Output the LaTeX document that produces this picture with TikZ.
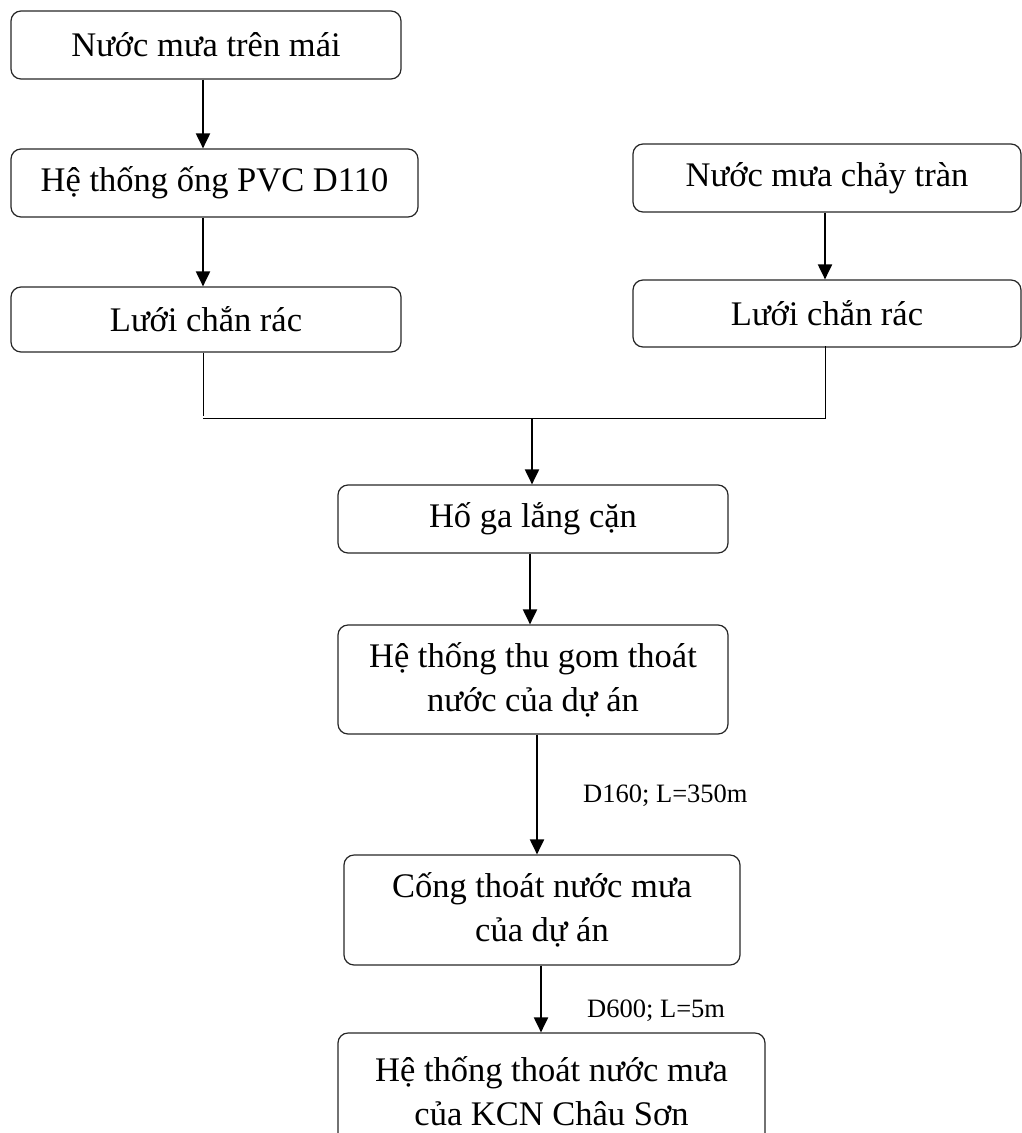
\documentclass[tikz,border=0pt]{standalone}
\usepackage{fontspec}
\setmainfont{Liberation Serif}
\usetikzlibrary{arrows.meta}
\tikzset{
  box/.style={draw=black!85, line width=1.2pt, rounded corners=10pt, rectangle, align=center,
    inner sep=0pt, font=\fontsize{34.5}{44}\selectfont},
  arr/.style={line width=2pt, -{Triangle[length=15pt,width=14pt]}},
  thinline/.style={line width=1pt},
  lbl/.style={font=\fontsize{26.5}{32}\selectfont, anchor=base west, inner sep=0pt}
}
\begin{document}
\begin{tikzpicture}[x=1pt,y=-1pt]
\useasboundingbox (0,0) rectangle (1022,1133);
\node[box, minimum width=390pt, minimum height=68pt] (n1) at (206,45) {Nước mưa trên mái};
\node[box, minimum width=407pt, minimum height=68pt] (n2) at (214.5,183) {Hệ thống ống PVC D110};
\node[box, minimum width=390pt, minimum height=65pt] (n3) at (206,319.5) {Lưới chắn rác};
\node[box, minimum width=388pt, minimum height=68pt] (r1) at (827,178) {Nước mưa chảy tràn};
\node[box, minimum width=388pt, minimum height=67pt] (r2) at (827,313.5) {Lưới chắn rác};
\node[box, minimum width=390pt, minimum height=68pt] (h) at (533,519) {Hố ga lắng cặn};
\node[box, minimum width=390pt, minimum height=109pt] (t) at (533,679.5) {Hệ thống thu gom thoát\\nước của dự án};
\node[box, minimum width=396pt, minimum height=110pt] (c) at (542,910) {Cống thoát nước mưa\\của dự án};
\node[box, minimum width=427pt, minimum height=116pt] (b) at (551.5,1091) {Hệ thống thoát nước mưa\\của KCN Châu Sơn};

\draw[arr] ([xshift=-3pt]n1.south) -- ([xshift=-3pt]n1.south |- n2.north);
\draw[arr] ([xshift=-3pt]n1.south |- n2.south) -- ([xshift=-3pt]n1.south |- n3.north);
\draw[arr] ([xshift=-2pt]r1.south) -- ([xshift=-2pt]r1.south |- r2.north);

\coordinate (jl) at (203,418);
\coordinate (jr) at (825,418);
\coordinate (jm) at (532,418);
\draw[thinline] (n3.south -| jl) -- ([yshift=2pt]jl);
\draw[thinline] (jl) -- (jr) -- ([yshift=2pt]r2.south -| jr);
\draw[arr] (jm) -- (h.north -| jm);

\draw[arr] ([xshift=-3pt]h.south) -- ([xshift=-3pt]h.south |- t.north);
\draw[arr] ([xshift=4pt]t.south) -- ([xshift=4pt]t.south |- c.north);
\node[lbl] (l1) at (583,802) {D160; L=350m};
\draw[arr] ([xshift=-1pt]c.south) -- ([xshift=-1pt]c.south |- b.north);
\node[lbl] (l2) at (587,1017) {D600; L=5m};
\end{tikzpicture}
\end{document}
